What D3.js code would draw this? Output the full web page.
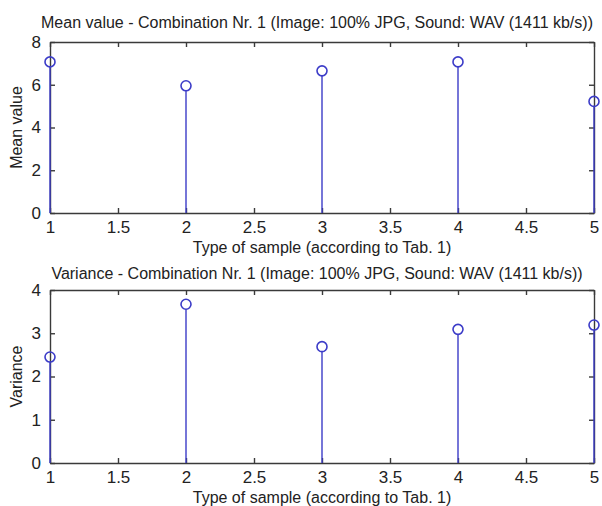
<!DOCTYPE html>
<html>
<head>
<meta charset="utf-8">
<script src="https://cdn.jsdelivr.net/npm/d3@7"></script>
<style>
	body { margin: 0; background: #fff; }
	svg { display: block; font-family: "Liberation Sans", Arial, sans-serif; }
	.axis path, .axis line { stroke: #3a3a3a; stroke-width: 1.4; }
	.axis text { fill: #222; font-size: 17px; }
	.lbl { fill: #222; font-size: 16px; }
	.stem { stroke: #3c3cc8; stroke-width: 1.4; }
	.dot { fill: none; stroke: #3c3cc8; stroke-width: 1.6; }
</style>
</head>
<body>
<svg width="602" height="506"></svg>
<script>
// sample types on the x axis
var samples = [1, 2, 3, 4, 5];
var meanValues = [7.07, 5.95, 6.65, 7.07, 5.22];
var varianceValues = [2.45, 3.67, 2.69, 3.09, 3.19];
var xTicks = [1, 1.5, 2, 2.5, 3, 3.5, 4, 4.5, 5];
var meanTicks = [0, 2, 4, 6, 8];
var varTicks = [0, 1, 2, 3, 4];

var svg = d3.select("svg");
var left = 50, right = 594;

var x = d3.scaleLinear().domain([1, 5]).range([left, right]);

function panel(top, bottom, titleY, title, ylabel, yMax, yTicks, values) {
	var y = d3.scaleLinear().domain([0, yMax]).range([bottom, top]);
	var g = svg.append("g");
	var tk = 5;

	// box with inward ticks on all four sides
	g.append("g").attr("class", "axis")
		.attr("transform", "translate(0," + bottom + ")")
		.call(d3.axisBottom(x).tickValues(xTicks).tickSizeInner(-tk).tickSizeOuter(0).tickPadding(8).tickFormat(d3.format("")))
		.selectAll("text").attr("dy", "0.71em");
	g.append("g").attr("class", "axis")
		.attr("transform", "translate(0," + top + ")")
		.call(d3.axisTop(x).tickValues(xTicks).tickSizeInner(-tk).tickSizeOuter(0).tickFormat(""));
	g.append("g").attr("class", "axis")
		.attr("transform", "translate(" + left + ",0)")
		.call(d3.axisLeft(y).tickValues(yTicks).tickSizeInner(-tk).tickSizeOuter(0).tickPadding(9).tickFormat(d3.format("d")));
	g.append("g").attr("class", "axis")
		.attr("transform", "translate(" + right + ",0)")
		.call(d3.axisRight(y).tickValues(yTicks).tickSizeInner(-tk).tickSizeOuter(0).tickFormat(""));

	var data = samples.map(function(s, i) { return {s: s, v: values[i]}; });

	g.selectAll(".stem").data(data).enter().append("line")
		.attr("class", "stem")
		.attr("x1", function(d) { return x(d.s); })
		.attr("x2", function(d) { return x(d.s); })
		.attr("y1", y(0))
		.attr("y2", function(d) { return y(d.v) + 5; });

	g.selectAll(".dot").data(data).enter().append("circle")
		.attr("class", "dot")
		.attr("cx", function(d) { return x(d.s); })
		.attr("cy", function(d) { return y(d.v); })
		.attr("r", 5);

	g.append("text").attr("class", "lbl")
		.attr("x", 317)
		.attr("y", titleY)
		.attr("text-anchor", "middle")
		.text(title);

	g.append("text").attr("class", "lbl")
		.attr("x", (left + right) / 2)
		.attr("y", bottom + 40)
		.attr("text-anchor", "middle")
		.text("Type of sample (according to Tab. 1)");

	g.append("text").attr("class", "lbl")
		.attr("transform", "translate(22," + (top + bottom) / 2 + ") rotate(-90)")
		.attr("text-anchor", "middle")
		.text(ylabel);
}

panel(42, 213, 28, "Mean value - Combination Nr. 1 (Image: 100% JPG, Sound: WAV (1411 kb/s))", "Mean value", 8, meanTicks, meanValues);
panel(290, 463, 279, "Variance - Combination Nr. 1 (Image: 100% JPG, Sound: WAV (1411 kb/s))", "Variance", 4, varTicks, varianceValues);
</script>
</body>
</html>
